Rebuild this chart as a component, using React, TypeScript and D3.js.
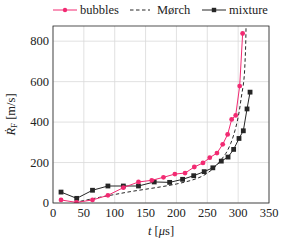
import * as d3 from 'd3'

const xTicks = [0, 50, 100, 150, 200, 250, 300, 350]
const yTicks = [0, 200, 400, 600, 800]

const bubblesT = [13, 38, 64, 89, 114, 138.5, 160, 179, 197.5, 214, 229, 243, 254, 265.7, 275, 283, 289.5, 296, 302.5, 307.3]
const bubblesV = [15, 3, 15, 38, 76, 104, 112, 127, 143, 148, 178, 198, 224, 247, 290, 339, 413, 433, 578, 838]

const mixtureT = [13, 38.4, 64, 89, 114, 138.5, 164, 189, 210, 228, 245, 259, 272.7, 283.6, 292.7, 301.4, 308.4, 314.4, 319.3]
const mixtureV = [54, 23, 63, 84, 84, 84, 104, 102, 117, 135, 155, 174, 207, 227, 265, 319, 357, 465, 548]

const morchT = [35, 50, 75, 100, 125, 150, 175, 200, 225, 240, 252, 263, 272, 280, 288, 295, 301, 305, 309, 311.5, 312.8]
const morchV = [3, 12, 28, 42, 56, 68, 80, 94, 113, 130, 152, 179, 212, 245, 295, 360, 440, 520, 600, 720, 875]

const W = 284
const H = 244
const margin = { left: 53, top: 26, right: 15, bottom: 41 }
const PINK = '#f22a72'
const DARK = '#262626'
const SERIF = 'Liberation Serif'
const FS = 12.5

const App = () => {
  const x = d3.scaleLinear().domain([0, 350]).range([margin.left, W - margin.right])
  const y = d3.scaleLinear().domain([0, 875]).range([H - margin.bottom, margin.top])
  const line = d3.line<[number, number]>().x(d => x(d[0])).y(d => y(d[1]))
  const curve = d3.line<[number, number]>().x(d => x(d[0])).y(d => y(d[1])).curve(d3.curveMonotoneY)

  const bubbles = bubblesT.map((t, i) => [t, bubblesV[i]] as [number, number])
  const mixture = mixtureT.map((t, i) => [t, mixtureV[i]] as [number, number])
  const morch = morchT.map((t, i) => [t, morchV[i]] as [number, number])

  const [x0, x1] = x.range()
  const [y0, y1] = y.range()

  return (
    <svg width={W} height={H} style={{ position: 'absolute', left: 0, top: 0 }}>
      <defs>
        <clipPath id="plot">
          <rect x={x0} y={y1} width={x1 - x0} height={y0 - y1} />
        </clipPath>
      </defs>
      {/* grid */}
      {xTicks.map(t => (
        <line key={'gx' + t} x1={x(t)} x2={x(t)} y1={y0} y2={y1} stroke="#d9d9d9" strokeWidth={0.8} />
      ))}
      {yTicks.map(t => (
        <line key={'gy' + t} x1={x0} x2={x1} y1={y(t)} y2={y(t)} stroke="#d9d9d9" strokeWidth={0.8} />
      ))}

      <g clipPath="url(#plot)">
        <path d={curve(morch) || ''} fill="none" stroke={DARK} strokeWidth={1} strokeDasharray="3.5,2.5" />
        <path d={line(mixture) || ''} fill="none" stroke={DARK} strokeWidth={1} />
        {mixture.map((d, i) => (
          <rect key={'m' + i} x={x(d[0]) - 2.4} y={y(d[1]) - 2.4} width={4.8} height={4.8} fill={DARK} />
        ))}
        <path d={line(bubbles) || ''} fill="none" stroke={PINK} strokeWidth={1} />
        {bubbles.map((d, i) => (
          <circle key={'b' + i} cx={x(d[0])} cy={y(d[1])} r={2.4} fill={PINK} />
        ))}
      </g>

      <rect x={x0} y={y1} width={x1 - x0} height={y0 - y1} fill="none" stroke={DARK} strokeWidth={0.8} />

      {xTicks.map(t => (
        <text key={'tx' + t} x={x(t)} y={y0 + 14} textAnchor="middle" fontFamily={SERIF} fontSize={FS} fill="#222">{t}</text>
      ))}
      {yTicks.map(t => (
        <text key={'ty' + t} x={x0 - 4} y={y(t) + 4} textAnchor="end" fontFamily={SERIF} fontSize={FS} fill="#222">{t}</text>
      ))}

      <text x={(x0 + x1) / 2} y={H - 9} textAnchor="middle" fontFamily={SERIF} fontSize={FS} fill="#222">
        <tspan fontStyle="italic">t</tspan> [<tspan fontStyle="italic">μ</tspan>s]
      </text>
      <text transform={`translate(15, ${(y0 + y1) / 2}) rotate(-90)`} textAnchor="middle" fontFamily={SERIF} fontSize={FS} fill="#222">
        <tspan fontStyle="italic">Ṙ</tspan>
        <tspan fontSize={9} dy={2}>F</tspan>
        <tspan dy={-2}> [m/s]</tspan>
      </text>

      {/* legend */}
      <line x1={53} x2={77} y1={10} y2={10} stroke={PINK} strokeWidth={1} />
      <circle cx={65} cy={10} r={2.2} fill={PINK} />
      <text x={80} y={14} fontFamily={SERIF} fontSize={FS} fill="#222">bubbles</text>
      <line x1={130} x2={150} y1={10} y2={10} stroke={DARK} strokeWidth={1} strokeDasharray="3.5,2.5" />
      <text x={157} y={14} fontFamily={SERIF} fontSize={FS} fill="#222">Mørch</text>
      <line x1={202} x2={226} y1={10} y2={10} stroke={DARK} strokeWidth={1} />
      <rect x={211.8} y={7.8} width={4.4} height={4.4} fill={DARK} />
      <text x={229} y={14} fontFamily={SERIF} fontSize={FS} fill="#222">mixture</text>
    </svg>
  )
}

export default App
